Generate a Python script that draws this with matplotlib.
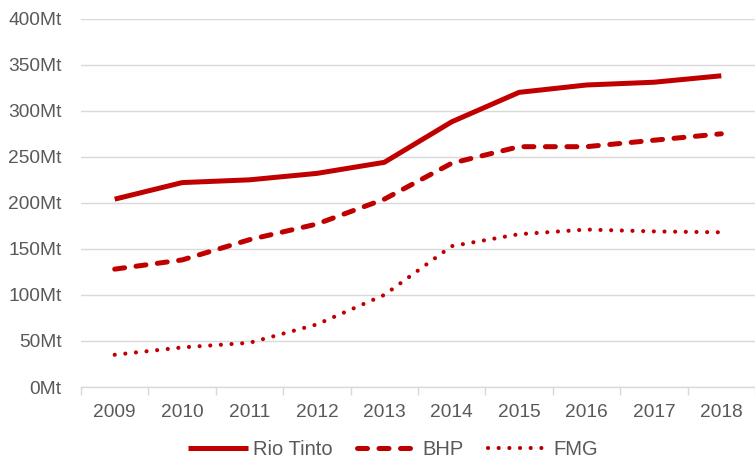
import matplotlib
matplotlib.use("Agg")
import matplotlib.pyplot as plt

years = ["2009", "2010", "2011", "2012", "2013", "2014", "2015", "2016", "2017", "2018"]
rio_tinto = [204, 222, 225, 232, 244, 288, 320, 328, 331, 338]
bhp = [128, 138, 160, 177, 204, 243, 261, 261, 268, 275]
fmg = [35, 43, 48, 68, 100, 153, 166, 171, 169, 168]

red = "#C00000"
grey_text = "#595959"
grid_col = "#D9D9D9"

plt.rcParams["font.family"] = ["Liberation Sans", "DejaVu Sans"]

fig = plt.figure(figsize=(7.55, 4.63), dpi=100)
ax = fig.add_axes([81 / 755, 76 / 463, 1 - 81 / 755, (387 - 18.7) / 463])

x = list(range(len(years)))
ax.plot(x, rio_tinto, color=red, lw=3.6, solid_capstyle="butt", label="Rio Tinto")
ax.plot(x, bhp, color=red, lw=3.6, dashes=(2.0, 2.3), dash_capstyle="round", label="BHP")
ax.plot(x, fmg, color=red, lw=3.0, dashes=(0.01, 2.55), dash_capstyle="round", label="FMG")

ax.set_ylim(0, 400)
ax.set_xlim(-0.5, 9.41)
ax.set_yticks(range(0, 401, 50))
ax.set_yticklabels([f"{v}Mt" for v in range(0, 401, 50)])
ax.set_xticks(x)
ax.set_xticklabels(years)
ax.set_xticks([i - 0.5 for i in range(len(years) + 1)], minor=True)

ax.yaxis.grid(True, color=grid_col, lw=1)
ax.set_axisbelow(True)
for side in ["top", "right", "left"]:
    ax.spines[side].set_visible(False)
ax.spines["bottom"].set_color(grid_col)
ax.spines["bottom"].set_linewidth(1)

ax.tick_params(axis="y", length=0, pad=14, labelsize=13.8, labelcolor=grey_text)
ax.tick_params(axis="x", which="major", length=0, pad=12, labelsize=13.8, labelcolor=grey_text)
ax.tick_params(axis="x", which="minor", length=6, width=1, color=grid_col, direction="out")

leg = fig.legend(loc="lower center", bbox_to_anchor=(0.52, -0.03), ncol=3, frameon=False,
                 fontsize=14.5, handlelength=3.0, handletextpad=0.25, columnspacing=1.2)
for t in leg.get_texts():
    t.set_color(grey_text)

fig.savefig("out.png", dpi=100)
